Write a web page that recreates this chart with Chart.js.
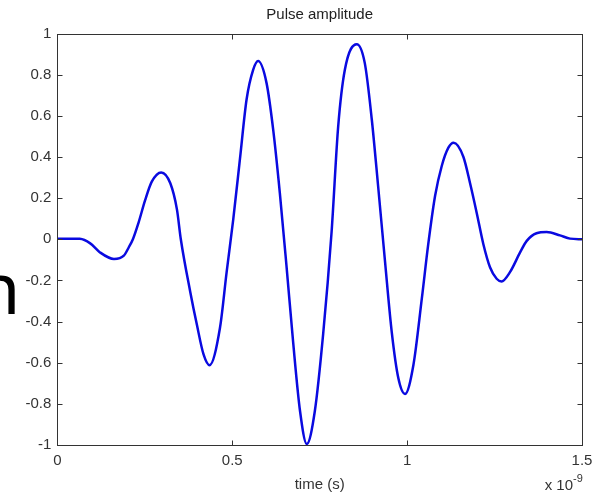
<!DOCTYPE html>
<html>
<head>
<meta charset="utf-8">
<script src="https://cdn.jsdelivr.net/npm/chart.js@4"></script>
<style>
  html, body { margin: 0; padding: 0; background: #fff; }
  #wrap { position: relative; width: 603px; height: 496px; overflow: hidden; }
  #slideText {
    position: absolute; left: -24px; top: 250px;
    font-family: "Noto Sans", sans-serif; font-size: 72px; line-height: 72px;
    color: #000;
  }
</style>
</head>
<body>
<div id="wrap">
  <canvas id="pulse" width="603" height="496"></canvas>
  <div id="slideText">n</div>
</div>
<script>
// time in units of 1e-9 s (axis shows "x 10^-9")
const timeNs = [0, 0.036, 0.064, 0.094, 0.122, 0.162, 0.190, 0.204, 0.216, 0.232,
  0.251, 0.270, 0.297, 0.323, 0.342, 0.353, 0.380, 0.399, 0.418, 0.435,
  0.465, 0.484, 0.503, 0.522, 0.541, 0.560, 0.574, 0.598, 0.617, 0.636,
  0.655, 0.674, 0.694, 0.713, 0.736, 0.760, 0.784, 0.803, 0.822, 0.856,
  0.879, 0.899, 0.917, 0.937, 0.956, 0.975, 0.994, 1.018, 1.042, 1.060,
  1.080, 1.099, 1.118, 1.133, 1.161, 1.180, 1.199, 1.218, 1.237, 1.256,
  1.270, 1.294, 1.323, 1.342, 1.370, 1.399, 1.437, 1.466, 1.5];
const amplitude = [0.003, 0.003, 0.002, -0.02, -0.064, -0.096, -0.08, -0.04, 0, 0.08,
  0.19, 0.28, 0.325, 0.272, 0.144, 0, -0.256, -0.416, -0.56, -0.612,
  -0.43, -0.16, 0.098, 0.389, 0.679, 0.824, 0.866, 0.76, 0.534, 0.227,
  -0.127, -0.498, -0.837, -0.995, -0.837, -0.46, 0.034, 0.55, 0.824, 0.948,
  0.856, 0.582, 0.26, -0.111, -0.45, -0.676, -0.752, -0.611, -0.289, -0.03,
  0.211, 0.356, 0.445, 0.469, 0.40, 0.272, 0.128, -0.024, -0.136, -0.192,
  -0.205, -0.16, -0.064, -0.008, 0.029, 0.035, 0.019, 0.003, 0];
const xTicks = [0, 0.5, 1, 1.5];
const yTicks = [-1, -0.8, -0.6, -0.4, -0.2, 0, 0.2, 0.4, 0.6, 0.8, 1];

const fontFamily = '"Liberation Sans", Arial, sans-serif';
const axisColor = "#333";

// matlab style box, inward ticks and the x10^-9 exponent
const matlabBox = {
  id: "matlabBox",
  afterDatasetsDraw(chart) {
    const { ctx, chartArea: a, scales } = chart;
    const left = Math.round(a.left) + 0.5;
    const right = Math.round(a.right) + 0.5;
    const top = Math.round(a.top) + 0.5;
    const bottom = Math.round(a.bottom) + 0.5;
    const len = 5;
    ctx.save();
    ctx.strokeStyle = axisColor;
    ctx.lineWidth = 1;
    ctx.strokeRect(left, top, right - left, bottom - top);
    ctx.beginPath();
    scales.x.ticks.forEach((t) => {
      const px = Math.round(scales.x.getPixelForValue(t.value)) + 0.5;
      ctx.moveTo(px, bottom); ctx.lineTo(px, bottom - len);
      ctx.moveTo(px, top); ctx.lineTo(px, top + len);
    });
    scales.y.ticks.forEach((t) => {
      const py = Math.round(scales.y.getPixelForValue(t.value)) + 0.5;
      ctx.moveTo(left, py); ctx.lineTo(left + len, py);
      ctx.moveTo(right, py); ctx.lineTo(right - len, py);
    });
    ctx.stroke();

    ctx.fillStyle = axisColor;
    ctx.textBaseline = "middle";
    ctx.textAlign = "right";
    ctx.font = "15px " + fontFamily;
    ctx.fillText("x 10", a.right - 9, a.bottom + 41);
    ctx.textAlign = "left";
    ctx.font = "11px " + fontFamily;
    ctx.fillText("-9", a.right - 9, a.bottom + 34);
    ctx.restore();
  },
};

new Chart(document.getElementById("pulse"), {
  type: "line",
  data: {
    datasets: [{
      data: timeNs.map((t, i) => ({ x: t, y: amplitude[i] })),
      borderColor: "#0a0ae0",
      borderWidth: 2.5,
      pointRadius: 0,
      cubicInterpolationMode: "monotone",
      fill: false,
    }],
  },
  options: {
    responsive: false,
    animation: false,
    layout: {
      padding: { left: 19.5, right: 21, top: 5.5, bottom: 2 },
    },
    plugins: {
      legend: { display: false },
      tooltip: { enabled: false },
      title: {
        display: true,
        text: "Pulse amplitude",
        fullSize: false,
        color: "#222",
        font: { family: fontFamily, size: 15, weight: "normal" },
        padding: { top: 0, bottom: 10 },
      },
    },
    scales: {
      x: {
        type: "linear",
        min: 0,
        max: 1.5,
        afterBuildTicks: (scale) => {
          scale.ticks = xTicks.map((v) => ({ value: v }));
        },
        grid: { display: false, drawTicks: false },
        border: { display: false },
        ticks: {
          color: axisColor,
          padding: 6.5,
          maxRotation: 0,
          font: { family: fontFamily, size: 15 },
          callback: (v) => String(v),
        },
        title: {
          display: true,
          text: "time (s)",
          color: axisColor,
          font: { family: fontFamily, size: 15 },
          padding: { top: 0, bottom: 0 },
        },
      },
      y: {
        type: "linear",
        min: -1,
        max: 1,
        afterBuildTicks: (scale) => {
          scale.ticks = yTicks.map((v) => ({ value: v }));
        },
        grid: { display: false, drawTicks: false },
        border: { display: false },
        ticks: {
          color: axisColor,
          padding: 6,
          font: { family: fontFamily, size: 15 },
          callback: (v) => String(v),
        },
      },
    },
  },
  plugins: [matlabBox],
});
</script>
</body>
</html>
